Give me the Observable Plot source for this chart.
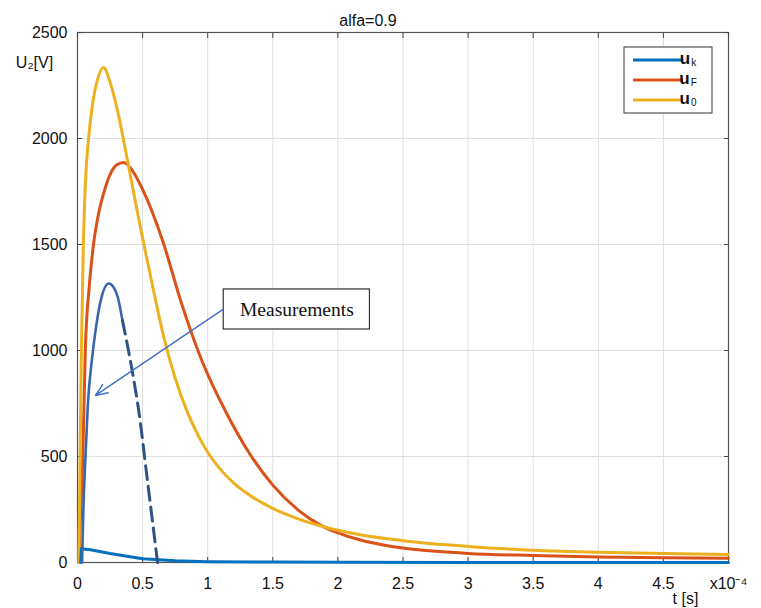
<!DOCTYPE html>
<html><head><meta charset="utf-8">
<script src="https://cdn.jsdelivr.net/npm/d3@7"></script>
<script src="https://cdn.jsdelivr.net/npm/@observablehq/plot@0.6"></script>
<style>body{margin:0;background:#fff;} #chart{width:761px;height:608px;}</style>
</head><body><div id="chart"></div>
<script>
// ---- data (time in units of 1e-4 s, voltage in V) ----
const xTicks = [0, 0.5, 1, 1.5, 2, 2.5, 3, 3.5, 4, 4.5, 5];
const xTickLabels = ["0", "0.5", "1", "1.5", "2", "2.5", "3", "3.5", "4", "4.5", "x10\u207B\u2074"];
const yTicks = [0, 500, 1000, 1500, 2000, 2500];
const yTickLabels = ["0", "500", "1000", "1500", "2000", "2500"];

const u0T = [0.01, 0.02, 0.03, 0.045, 0.06, 0.085, 0.12, 0.15, 0.2, 0.25, 0.3, 0.35, 0.4, 0.45, 0.5, 0.58, 0.66, 0.75, 0.84, 0.92, 1.0, 1.1, 1.2, 1.35, 1.5, 1.7, 1.87, 2.0, 2.18, 2.5, 3.0, 3.5, 4.0, 4.5, 5.0];
const u0V = [0, 500, 1000, 1500, 1780, 2000, 2180, 2270, 2335, 2265, 2150, 2005, 1845, 1685, 1530, 1295, 1070, 870, 715, 608, 520, 438, 374, 306, 255, 205, 172, 152, 130, 103, 76, 58, 48, 42, 38];

const uFT = [0.01, 0.025, 0.04, 0.06, 0.09, 0.125, 0.16, 0.2, 0.25, 0.3, 0.355, 0.42, 0.5, 0.65, 0.8, 0.95, 1.15, 1.31, 1.5, 1.7, 1.87, 2.0, 2.18, 2.33, 2.5, 2.75, 3.0, 3.5, 4.0, 4.5, 5.0];
const uFV = [0, 250, 481, 1000, 1300, 1510, 1640, 1740, 1830, 1875, 1887, 1850, 1760, 1525, 1220, 960, 698, 525, 365, 245, 175, 140, 105, 85, 68, 53, 43, 33, 26, 22, 20];

const ukT = [0.025, 0.03, 0.1, 0.25, 0.5, 0.75, 1.0, 1.5, 2, 3, 4, 5];
const ukV = [0, 65, 60, 42, 18, 8, 4, 2, 1, 0.5, 0.3, 0.2];

const measT = [0.035, 0.045, 0.06, 0.08, 0.11, 0.14, 0.18, 0.24, 0.28, 0.31, 0.345];
const measV = [0, 250, 481, 750, 953, 1100, 1240, 1316, 1295, 1250, 1142];
const measDashT = [0.345, 0.42, 0.47, 0.54, 0.615];
const measDashV = [1142, 905, 717, 372, 0];

const legendNames = ["k", "F", "0"];
const seriesColors = ["#0072BD", "#D95319", "#EDB120"];

const annotation = [{t1: 1.123, t2: 2.246, v1: 1099, v2: 1288, tc: 1.685, vc: 1193, label: "Measurements",
                     at: 1.115, av: 1193, bt: 0.138, bv: 788}];

const toRows = (T, V) => T.map((t, i) => ({t, v: V[i]}));
const u0 = toRows(u0T, u0V), uF = toRows(uFT, uFV), uk = toRows(ukT, ukV);
const meas = toRows(measT, measV), measDash = toRows(measDashT, measDashV);

const xLabelOf = d => xTickLabels[xTicks.indexOf(d)];
const yLabelOf = d => yTickLabels[yTicks.indexOf(d)];
const tickColor = "#444";

const chart = Plot.plot({
  width: 761, height: 608,
  marginLeft: 77, marginRight: 33, marginTop: 32, marginBottom: 46,
  style: {fontFamily: "'Liberation Sans', Arial, sans-serif", fontSize: "16px", background: "#fff", color: "#111"},
  x: {domain: [0, 5]},
  y: {domain: [0, 2500]},
  marks: [
    Plot.gridX({ticks: xTicks, stroke: "#dedede", strokeOpacity: 1}),
    Plot.gridY({ticks: yTicks, stroke: "#dedede", strokeOpacity: 1}),
    Plot.frame({stroke: "#555", strokeWidth: 1.2}),
    // inward ticks on all four sides
    Plot.axisX({ticks: xTicks, anchor: "bottom", tickSize: 5, dy: -5, tickFormat: () => "", stroke: tickColor}),
    Plot.axisX({ticks: xTicks, anchor: "top", tickSize: 5, dy: 5, tickFormat: () => "", stroke: tickColor}),
    Plot.axisY({ticks: yTicks, anchor: "left", tickSize: 5, dx: 5, tickFormat: () => "", stroke: tickColor}),
    Plot.axisY({ticks: yTicks, anchor: "right", tickSize: 5, dx: -5, tickFormat: () => "", stroke: tickColor}),
    // tick labels
    Plot.axisX({ticks: xTicks, anchor: "bottom", tickSize: 0, tickPadding: 15, tickFormat: xLabelOf, label: null, letterSpacing: 0.8, fontSize: 16}),
    Plot.axisY({ticks: yTicks, anchor: "left", tickSize: 0, tickPadding: 10, tickFormat: yLabelOf, label: null, letterSpacing: 0.8, fontSize: 16}),
    // curves
    Plot.line(uF, {x: "t", y: "v", stroke: seriesColors[1], strokeWidth: 3, curve: "monotone-x"}),
    Plot.line(u0, {x: "t", y: "v", stroke: seriesColors[2], strokeWidth: 3, curve: "monotone-x"}),
    Plot.line(uk, {x: "t", y: "v", stroke: seriesColors[0], strokeWidth: 3, curve: "linear"}),
    Plot.line(meas, {x: "t", y: "v", stroke: "#3A66AE", strokeWidth: 2.6, curve: "monotone-x"}),
    Plot.line(measDash, {x: "t", y: "v", stroke: "#2F5287", strokeWidth: 3, strokeDasharray: "14,7", curve: "monotone-x"}),
    // annotation
    Plot.rect(annotation, {x1: "t1", x2: "t2", y1: "v1", y2: "v2", fill: "#fff", stroke: "#333", strokeWidth: 1.2}),
    Plot.text(annotation, {x: "tc", y: "vc", text: "label", fontFamily: "'Liberation Serif', 'Times New Roman', serif", fontSize: 19.5, fill: "#111"}),
    Plot.arrow(annotation, {x1: "at", y1: "av", x2: "bt", y2: "bv", stroke: "#4472C4", strokeWidth: 1.5, headLength: 13, headAngle: 45}),
    // titles
    Plot.text(["alfa=0.9"], {text: d => d, frameAnchor: "top", dx: -35, dy: -12, lineAnchor: "middle", fontSize: 16, letterSpacing: 0.5}),
    Plot.text(["U\u2082[V]"], {text: d => d, frameAnchor: "top-left", dx: -43, dy: 30, lineAnchor: "middle", textAnchor: "middle", fontSize: 16}),
    Plot.text(["t [s]"], {text: d => d, frameAnchor: "bottom-right", dx: -43, dy: 36, lineAnchor: "middle", textAnchor: "middle", fontSize: 16, letterSpacing: 0.5})
  ]
});

// legend inside the plot area (top-right)
const svg = d3.select(chart);
const lg = svg.append("g").attr("font-family", "'Liberation Sans', Arial, sans-serif");
lg.append("rect").attr("x", 624).attr("y", 47).attr("width", 88).attr("height", 66)
  .attr("fill", "#fff").attr("stroke", "#555").attr("stroke-width", 1.2);
legendNames.forEach((n, i) => {
  const y = 60 + i * 20;
  lg.append("line").attr("x1", 633).attr("x2", 683).attr("y1", y).attr("y2", y)
    .attr("stroke", seriesColors[i]).attr("stroke-width", 3);
  const t = lg.append("text").attr("x", 688).attr("y", y + 4).attr("fill", "#111");
  t.append("tspan").attr("font-size", 17).attr("font-weight", "bold").text("u");
  t.append("tspan").attr("font-size", 10).attr("dy", 2).attr("dx", 1).text(n);
});

document.getElementById("chart").appendChild(chart);
</script>
</body></html>
